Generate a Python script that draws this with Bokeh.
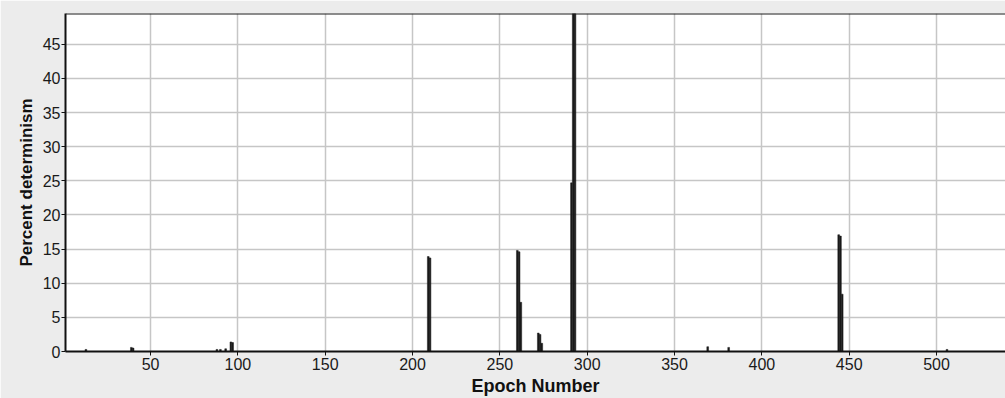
from bokeh.plotting import figure
from bokeh.models import Range1d, FixedTicker, Span
from bokeh.embed import file_html
from bokeh.resources import INLINE

# Data: epoch number vs percent determinism (non-zero epochs only)
epochs = [13, 39, 40, 88, 90, 93, 96, 97, 209, 210, 260, 261, 262,
          272, 273, 274, 291, 292, 293, 369, 381, 444, 445, 446, 506]
determinism = [0.3, 0.6, 0.5, 0.3, 0.3, 0.4, 1.4, 1.3, 13.9, 13.7, 14.8, 14.6, 7.2,
               2.7, 2.5, 1.2, 24.7, 52.0, 50.5, 0.7, 0.6, 17.1, 16.9, 8.4, 0.3]

x_ticks = [50, 100, 150, 200, 250, 300, 350, 400, 450, 500]
y_ticks = [0, 5, 10, 15, 20, 25, 30, 35, 40, 45]

X_START, X_END = 1.3, 539.5
Y_START, Y_END = 0, 49.5

p = figure(width=1005, height=398, output_backend="svg", toolbar_location=None,
           x_range=Range1d(X_START, X_END), y_range=Range1d(Y_START, Y_END),
           min_border_left=65, min_border_right=0, min_border_top=13, min_border_bottom=47)

p.border_fill_color = "#ececec"
p.background_fill_color = "white"
p.outline_line_color = None

p.vbar(x=epochs, top=determinism, bottom=0, width=1.0,
       fill_color="#1a1a1a", line_color="#1a1a1a", line_width=0.5)

p.add_layout(Span(location=Y_END, dimension="width", line_color="#1a1a1a", line_width=2))

p.xaxis.ticker = FixedTicker(ticks=x_ticks)
p.yaxis.ticker = FixedTicker(ticks=y_ticks)

for ax in (p.xaxis, p.yaxis):
    ax.axis_line_color = "#111111"
    ax.axis_line_width = 2
    ax.major_tick_line_color = "#111111"
    ax.major_tick_line_width = 1
    ax.major_tick_out = 4
    ax.major_tick_in = 0
    ax.minor_tick_line_color = None
    ax.major_label_text_font = "Liberation Sans"
    ax.major_label_text_font_size = "16px"
    ax.major_label_text_color = "#1a1a1a"
    ax.axis_label_text_font = "Liberation Sans"
    ax.axis_label_text_font_style = "bold"
    ax.axis_label_text_color = "#111111"

p.xaxis.axis_label = "Epoch Number"
p.xaxis.axis_label_text_font_size = "18px"
p.xaxis.axis_label_standoff = 3
p.xaxis.major_label_standoff = 2
p.yaxis.axis_label = "Percent determinism"
p.yaxis.axis_label_text_font_size = "17px"
p.yaxis.axis_label_standoff = 4
p.yaxis.major_label_standoff = 1

p.xgrid.grid_line_color = "#c6c6c6"
p.xgrid.grid_line_width = 1.5
p.ygrid.grid_line_color = "#c6c6c6"
p.ygrid.grid_line_width = 1.5

html = file_html(p, INLINE)
html = html.replace("<body>", '<body style="margin:0;padding:0;overflow:hidden;background-color:#ececec;">', 1)
open("out.html", "w").write(html)
